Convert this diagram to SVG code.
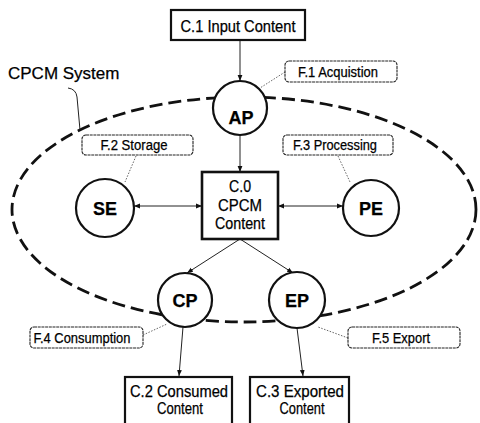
<svg xmlns="http://www.w3.org/2000/svg" width="480" height="423" viewBox="0 0 480 423">
<defs>
<style>
text{font-family:"Liberation Sans",Arial,sans-serif;fill:#000;stroke:#000;stroke-width:0.25;}
.box{fill:#fff;stroke:#111;stroke-width:2.2;}
.lbl{fill:#fff;stroke:#222;stroke-width:1.1;stroke-dasharray:3 0.7;}
.circ{fill:#fff;stroke:#111;stroke-width:2.2;}
.sys{fill:none;stroke:#111;stroke-width:2.8;stroke-dasharray:13 6;}
.arr{fill:none;stroke:#222;stroke-width:1;}
.lead{fill:none;stroke:#666;stroke-width:1;stroke-dasharray:1.5 1.5;}
.ct{font-size:16px;text-anchor:middle;}
.ft{font-size:14px;text-anchor:middle;}
.ce{font-size:18px;font-weight:bold;text-anchor:middle;}
</style>
<marker id="ah" viewBox="0 0 10 10" refX="10" refY="5" markerWidth="6" markerHeight="6" orient="auto-start-reverse" markerUnits="userSpaceOnUse">
<path d="M0,1 L10,5 L0,9 z" fill="#111"/>
</marker>
</defs>
<rect width="480" height="423" fill="#fff"/>

<g id="system">
<ellipse class="sys" cx="244" cy="209.5" rx="232" ry="112.5"/>
<text x="8" y="79" style="font-size:17px">CPCM System</text>
<path d="M68,88 Q76,89 77,97 L80,130" fill="none" stroke="#222" stroke-width="1"/>
</g>

<g id="connectors">
<line class="arr" x1="240" y1="40" x2="240" y2="81" marker-end="url(#ah)"/>
<line class="arr" x1="240" y1="135" x2="240" y2="172" marker-end="url(#ah)"/>
<line class="arr" x1="134" y1="206" x2="202" y2="206" marker-start="url(#ah)" marker-end="url(#ah)"/>
<line class="arr" x1="278" y1="206" x2="343" y2="206" marker-start="url(#ah)" marker-end="url(#ah)"/>
<line class="arr" x1="240" y1="239" x2="187" y2="273" marker-end="url(#ah)"/>
<line class="arr" x1="240" y1="239" x2="293" y2="273" marker-end="url(#ah)"/>
<line class="arr" x1="183" y1="327" x2="179" y2="376" marker-end="url(#ah)"/>
<line class="arr" x1="297" y1="328" x2="303" y2="376" marker-end="url(#ah)"/>
<line class="lead" x1="285" y1="72" x2="260" y2="88"/>
<line class="lead" x1="136" y1="156" x2="125" y2="182"/>
<line class="lead" x1="338" y1="156" x2="350" y2="182"/>
<line class="lead" x1="143" y1="335" x2="167" y2="324"/>
<line class="lead" x1="348" y1="338" x2="318" y2="327"/>
</g>

<g id="c1">
<rect class="box" x="171" y="10" width="134" height="30"/>
<text class="ct" x="238" y="32" textLength="115" lengthAdjust="spacingAndGlyphs">C.1 Input Content</text>
</g>

<g id="f1">
<rect class="lbl" x="285" y="61" width="112" height="21" rx="4"/>
<text class="ft" x="338" y="77" textLength="80" lengthAdjust="spacingAndGlyphs">F.1 Acquistion</text>
</g>

<g id="ap">
<circle class="circ" cx="240" cy="108" r="27"/>
<text class="ce" x="241" y="124">AP</text>
</g>

<g id="f2">
<rect class="lbl" x="82" y="135" width="111" height="20" rx="4"/>
<text class="ft" x="134" y="150" textLength="67" lengthAdjust="spacingAndGlyphs">F.2 Storage</text>
</g>

<g id="f3">
<rect class="lbl" x="283" y="135" width="110" height="20" rx="4"/>
<text class="ft" x="335" y="150" textLength="84" lengthAdjust="spacingAndGlyphs">F.3 Processing</text>
</g>

<g id="se">
<circle class="circ" cx="105" cy="208" r="29"/>
<text class="ce" x="105" y="215">SE</text>
</g>

<g id="pe">
<circle class="circ" cx="371" cy="208" r="28"/>
<text class="ce" x="371" y="215">PE</text>
</g>

<g id="c0">
<rect class="box" x="202" y="172" width="76" height="67" style="stroke-width:2.6"/>
<text class="ct" x="240" y="192" textLength="22" lengthAdjust="spacingAndGlyphs">C.0</text>
<text class="ct" x="240" y="211" textLength="44" lengthAdjust="spacingAndGlyphs">CPCM</text>
<text class="ct" x="240" y="229" textLength="50" lengthAdjust="spacingAndGlyphs">Content</text>
</g>

<g id="cp">
<circle class="circ" cx="185" cy="300" r="27"/>
<text class="ce" x="185" y="307">CP</text>
</g>

<g id="ep">
<circle class="circ" cx="297" cy="300" r="28"/>
<text class="ce" x="297" y="307">EP</text>
</g>

<g id="f4">
<rect class="lbl" x="30" y="327" width="113" height="21" rx="4"/>
<text class="ft" x="82" y="343" textLength="97" lengthAdjust="spacingAndGlyphs">F.4 Consumption</text>
</g>

<g id="f5">
<rect class="lbl" x="348" y="327" width="112" height="21" rx="4"/>
<text class="ft" x="401" y="343" textLength="58" lengthAdjust="spacingAndGlyphs">F.5 Export</text>
</g>

<g id="c2">
<rect class="box" x="125" y="377" width="107" height="60"/>
<text class="ct" x="179" y="397" textLength="98" lengthAdjust="spacingAndGlyphs">C.2 Consumed</text>
<text class="ct" x="180" y="414" textLength="46" lengthAdjust="spacingAndGlyphs">Content</text>
</g>

<g id="c3">
<rect class="box" x="250" y="377" width="99" height="60"/>
<text class="ct" x="300" y="397" textLength="88" lengthAdjust="spacingAndGlyphs">C.3 Exported</text>
<text class="ct" x="302" y="414" textLength="45" lengthAdjust="spacingAndGlyphs">Content</text>
</g>
</svg>
